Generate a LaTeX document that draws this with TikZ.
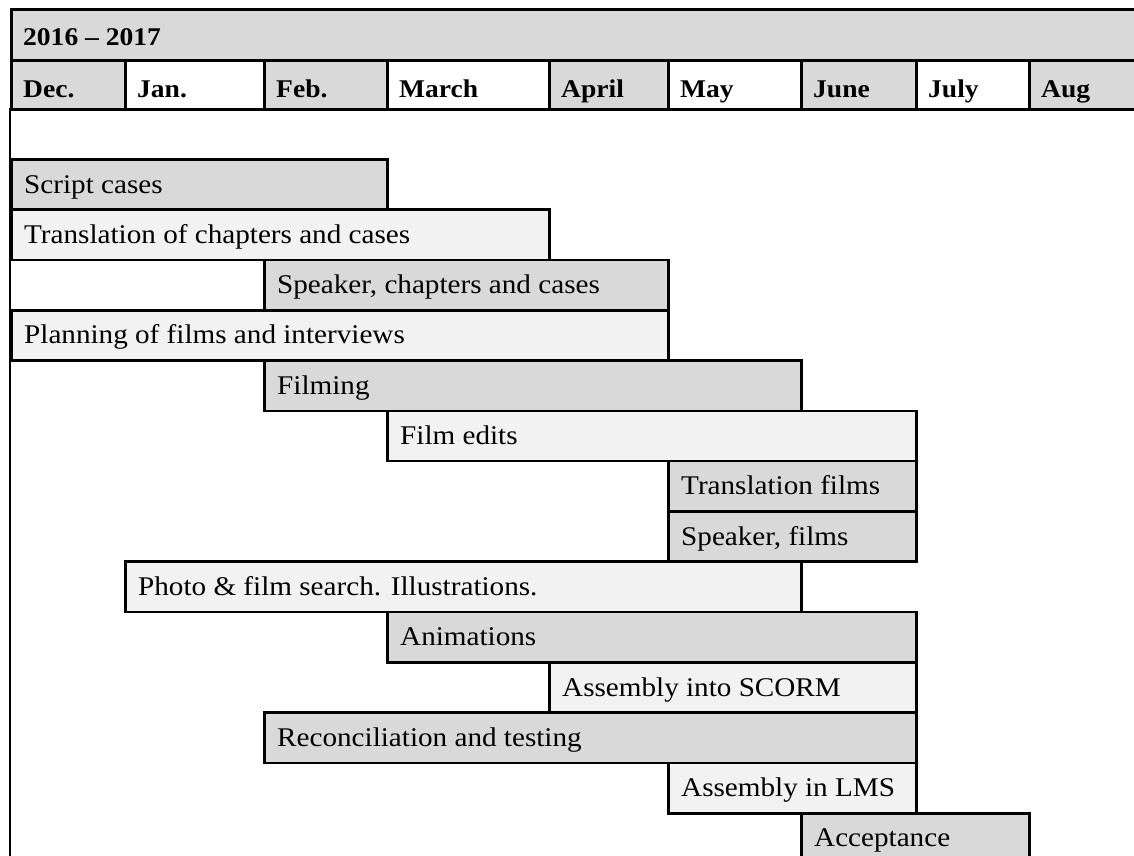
\documentclass[tikz,border=0pt]{standalone}
\usepackage{fontspec}
\setmainfont{Liberation Serif}[FakeStretch=1.08]
\definecolor{dk}{HTML}{D9D9D9}
\definecolor{lt}{HTML}{F2F2F2}
\begin{document}
\begin{tikzpicture}[x=1pt,y=-1pt,
  box/.style={draw=black, line width=2.6pt, anchor=north west, inner sep=0pt, minimum height=50.3pt},
  hbox/.style={box, minimum height=#1},
  txt/.style={anchor=base west, inner sep=0pt, font=\fontsize{27}{31}\selectfont},
  htxt/.style={txt, font=\fontsize{25.5}{30}\selectfont\bfseries}]
\useasboundingbox (0,0) rectangle (1134,855);
\clip (0,0) rectangle (1134,855);
\fill[white] (0,0) rectangle (1134,855);
% header
\node[hbox=51pt, fill=dk, minimum width=1150pt] (yr) at (10,8) {};
\node[htxt] (yrt) at ([xshift=13pt,yshift=-37pt]yr.north west) {2016 – 2017};
\foreach \i/\xa/\w/\c/\t in {1/10/114/dk/Dec., 2/124/139/white/Jan., 3/263/123/dk/Feb., 4/386/162/white/March, 5/548/119/dk/April, 6/667/133/white/May, 7/800/115/dk/June, 8/915/113/white/July, 9/1028/140/dk/Aug}
{
  \node[hbox=49pt, fill=\c, minimum width=\w pt] (m\i) at (\xa,59) {};
  \node[htxt] (mt\i) at ([xshift=13pt,yshift=-38pt]m\i.north west) {\t};
}
% table left border
\coordinate (lt) at (10,108);
\coordinate (lb) at (10,880);
\draw[line width=2.6pt] (lt) -- (lb);
% bars
\foreach \i/\xa/\w/\c/\t in {
  1/10/376/dk/{Script cases},
  2/10/538/lt/{Translation of chapters and cases},
  3/263/404/dk/{Speaker, chapters and cases},
  4/10/657/lt/{Planning of films and interviews},
  5/263/537/dk/{Filming},
  6/386/529/lt/{Film edits},
  7/667/248/dk/{Translation films},
  8/667/248/dk/{Speaker, films},
  9/124/676/lt/{Photo \& film search. Illustrations.},
  10/386/529/dk/{Animations},
  11/548/367/lt/{Assembly into SCORM},
  12/263/652/dk/{Reconciliation and testing},
  13/667/248/lt/{Assembly in LMS},
  14/800/228/dk/{Acceptance}}
{
  \node[box, fill=\c, minimum width=\w pt] (b\i) at (\xa,{158+50.3*(\i-1)}) {};
  \node[txt] (t\i) at ([xshift=14pt,yshift=-35pt]b\i.north west) {\t};
}
\end{tikzpicture}
\end{document}
